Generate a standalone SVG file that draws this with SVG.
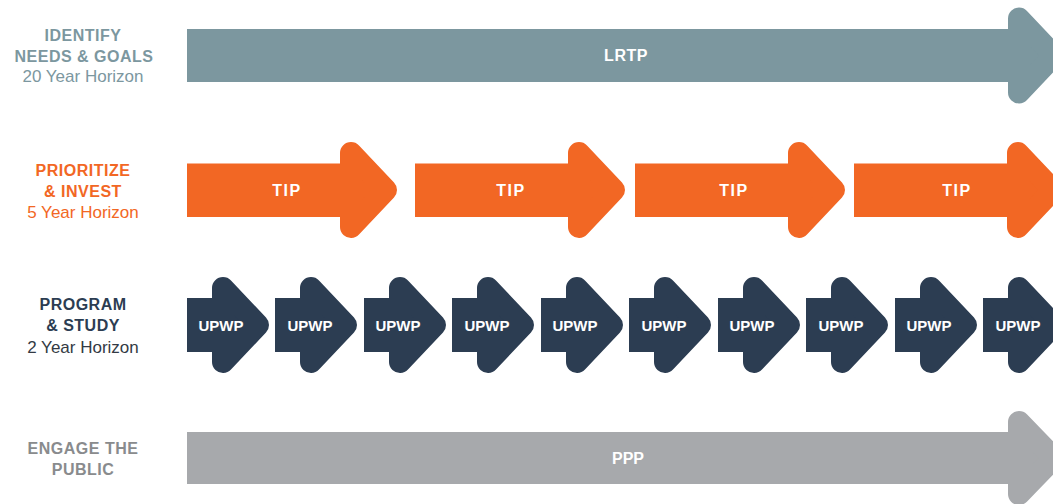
<svg xmlns="http://www.w3.org/2000/svg" width="1053" height="504" viewBox="0 0 1053 504">
  <style>
    .lrtp { fill: #7c979f; color: #7c979f; }
    .tip { fill: #f26724; color: #f26724; }
    .upwp { fill: #2c3d52; color: #2c3d52; }
    .ppp { fill: #a7a9ac; color: #a7a9ac; }
    .head { stroke: currentColor; stroke-width: 22; stroke-linejoin: round; }
    .lbl { fill: #ffffff; font-family: "Liberation Sans", Arial, sans-serif; font-weight: bold; font-size: 16px; text-anchor: middle; }
    .lbl15 { font-size: 15px; }
    .side { font-family: "Liberation Sans", Arial, sans-serif; font-weight: bold; font-size: 16px; letter-spacing: 0.5px; text-anchor: middle; }
    .hz { font-family: "Liberation Sans", Arial, sans-serif; font-size: 17px; text-anchor: middle; }
  </style>
  <rect width="1053" height="504" fill="#ffffff"/>

  <!-- left labels -->
  <g id="label-identify" fill="#7c979f">
    <text class="side" x="83" y="41">IDENTIFY</text>
    <text class="side" x="84" y="62">NEEDS &amp; GOALS</text>
    <text class="hz" x="83" y="82">20 Year Horizon</text>
  </g>
  <g id="label-prioritize" fill="#f26724">
    <text class="side" x="83" y="176">PRIORITIZE</text>
    <text class="side" x="83" y="197">&amp; INVEST</text>
    <text class="hz" x="83" y="218">5 Year Horizon</text>
  </g>
  <g id="label-program" fill="#2c3d52">
    <text class="side" x="83" y="310">PROGRAM</text>
    <text class="side" x="83" y="331">&amp; STUDY</text>
    <text class="hz" x="83" y="353" fill="#333a44">2 Year Horizon</text>
  </g>
  <g id="label-engage" fill="#898b8d">
    <text class="side" x="83" y="454">ENGAGE THE</text>
    <text class="side" x="83" y="475">PUBLIC</text>
  </g>

  <!-- LRTP -->
  <g id="lrtp" class="lrtp">
    <rect x="187" y="29" width="833" height="53"/>
    <polygon class="head" points="1019,18.5 1054,55.5 1019,92.5"/>
    <text class="lbl" x="626" y="61" letter-spacing="0.5">LRTP</text>
  </g>

  <!-- TIP row -->
  <g id="tip1" class="tip">
    <rect x="187" y="163.5" width="166" height="53.5"/>
    <polygon class="head" points="351,153 386,190 351,227"/>
    <text class="lbl" x="287" y="196" letter-spacing="1.5">TIP</text>
  </g>
  <g id="tip2" class="tip">
    <rect x="415" y="163.5" width="166" height="53.5"/>
    <polygon class="head" points="579,153 614,190 579,227"/>
    <text class="lbl" x="511" y="196" letter-spacing="1.5">TIP</text>
  </g>
  <g id="tip3" class="tip">
    <rect x="635" y="163.5" width="166" height="53.5"/>
    <polygon class="head" points="799,153 834,190 799,227"/>
    <text class="lbl" x="734" y="196" letter-spacing="1.5">TIP</text>
  </g>
  <g id="tip4" class="tip">
    <rect x="854" y="163.5" width="166" height="53.5"/>
    <polygon class="head" points="1018,153 1053,190 1018,227"/>
    <text class="lbl" x="957" y="196" letter-spacing="1.5">TIP</text>
  </g>

  <!-- UPWP row -->
  <g id="upwp1" class="upwp">
    <rect x="187" y="298" width="38" height="54"/>
    <polygon class="head" points="223,288 258,325 223,362"/>
    <text class="lbl lbl15" x="221" y="330.5">UPWP</text>
  </g>
  <g id="upwp2" class="upwp">
    <rect x="275" y="298" width="38" height="54"/>
    <polygon class="head" points="311,288 346,325 311,362"/>
    <text class="lbl lbl15" x="310" y="330.5">UPWP</text>
  </g>
  <g id="upwp3" class="upwp">
    <rect x="364" y="298" width="38" height="54"/>
    <polygon class="head" points="400,288 435,325 400,362"/>
    <text class="lbl lbl15" x="398" y="330.5">UPWP</text>
  </g>
  <g id="upwp4" class="upwp">
    <rect x="452" y="298" width="38" height="54"/>
    <polygon class="head" points="488,288 523,325 488,362"/>
    <text class="lbl lbl15" x="487" y="330.5">UPWP</text>
  </g>
  <g id="upwp5" class="upwp">
    <rect x="541" y="298" width="38" height="54"/>
    <polygon class="head" points="577,288 612,325 577,362"/>
    <text class="lbl lbl15" x="575" y="330.5">UPWP</text>
  </g>
  <g id="upwp6" class="upwp">
    <rect x="629" y="298" width="38" height="54"/>
    <polygon class="head" points="665,288 700,325 665,362"/>
    <text class="lbl lbl15" x="664" y="330.5">UPWP</text>
  </g>
  <g id="upwp7" class="upwp">
    <rect x="718" y="298" width="38" height="54"/>
    <polygon class="head" points="754,288 789,325 754,362"/>
    <text class="lbl lbl15" x="752" y="330.5">UPWP</text>
  </g>
  <g id="upwp8" class="upwp">
    <rect x="806" y="298" width="38" height="54"/>
    <polygon class="head" points="842,288 877,325 842,362"/>
    <text class="lbl lbl15" x="841" y="330.5">UPWP</text>
  </g>
  <g id="upwp9" class="upwp">
    <rect x="895" y="298" width="38" height="54"/>
    <polygon class="head" points="931,288 966,325 931,362"/>
    <text class="lbl lbl15" x="929" y="330.5">UPWP</text>
  </g>
  <g id="upwp10" class="upwp">
    <rect x="983" y="298" width="38" height="54"/>
    <polygon class="head" points="1019,288 1054,325 1019,362"/>
    <text class="lbl lbl15" x="1018" y="330.5">UPWP</text>
  </g>

  <!-- PPP -->
  <g id="ppp" class="ppp">
    <rect x="187" y="432" width="833" height="52"/>
    <polygon class="head" points="1019,422 1054,458 1019,494"/>
    <text class="lbl" x="628" y="464">PPP</text>
  </g>

  <g id="connectors"></g>
</svg>
